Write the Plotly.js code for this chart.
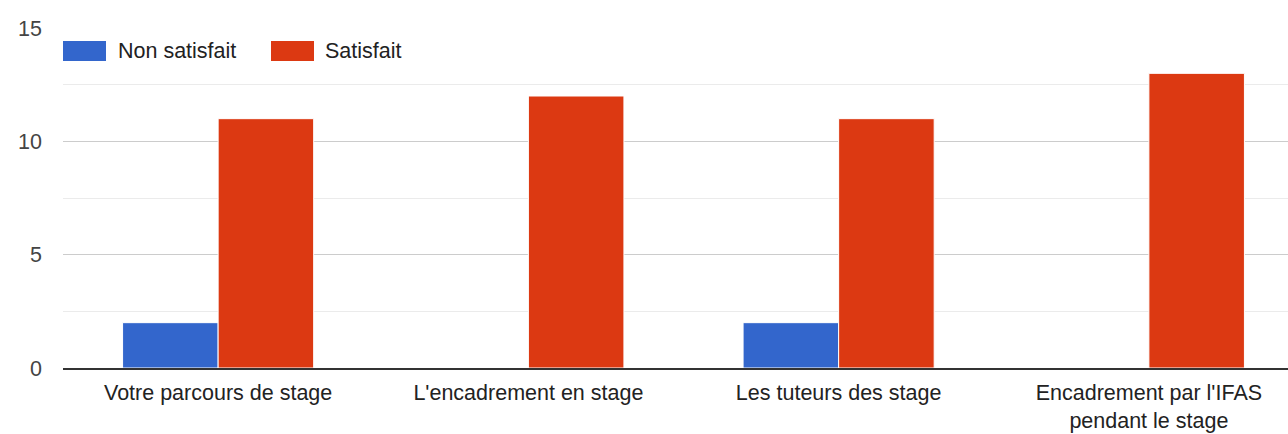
<!DOCTYPE html>
<html><head><meta charset="utf-8">
<script src="https://cdn.plot.ly/plotly-3.0.1.min.js"></script>
<style>html,body{margin:0;padding:0;overflow:hidden;background:#fff;width:1288px;height:434px}#c{width:1304px;height:434px}</style>
</head><body><div id="c"></div>
<script>
const categories = ["Votre parcours de stage", "L'encadrement en stage", "Les tuteurs des stage", "Encadrement par l'IFAS<br>pendant le stage"];
const nonSatisfait = [2, 0, 2, 0];
const satisfait = [11, 12, 11, 13];
const seriesNames = ["Non satisfait", "Satisfait"];
const colors = ["#3366cc", "#dc3912"];
const yTicks = [0, 5, 10, 15];

const FONT = '"Liberation Sans", Arial, sans-serif';
const FS = 21.5;
const L = 63, W = 1304, PW = W - L, T = 28, PH = 340;
const px = x => (x - L) / PW;
const py = y => (T + PH - y) / PH;

const traces = [nonSatisfait, satisfait].map((v, i) => ({
  type: 'bar', x: categories, y: v, name: seriesNames[i],
  marker: {color: colors[i], line: {color: '#ffffff', width: 1}},
  hoverinfo: 'none'
}));

const legendItems = [{x: 63, tx: 116}, {x: 271, tx: 323}];
const shapes = legendItems.map((it, i) => ({
  type: 'rect', xref: 'paper', yref: 'paper',
  x0: px(it.x), x1: px(it.x + 43), y0: py(61), y1: py(41),
  fillcolor: colors[i], line: {width: 0}
}));
const annotations = legendItems.map((it, i) => ({
  xref: 'paper', yref: 'paper', x: px(it.tx), y: py(51.5),
  xanchor: 'left', yanchor: 'middle', showarrow: false,
  text: seriesNames[i], font: {family: FONT, size: FS, color: '#222'}
}));

const layout = {
  width: W, height: 434,
  margin: {l: L, r: 0, t: T, b: 434 - T - PH, pad: 0},
  paper_bgcolor: '#fff', plot_bgcolor: '#fff',
  barmode: 'group', bargap: 0.384, bargroupgap: 0,
  showlegend: false,
  font: {family: FONT, size: FS, color: '#222'},
  xaxis: {showgrid: false, zeroline: false, showline: true, linecolor: '#333', linewidth: 1.5,
          ticks: '', ticklabelstandoff: 5, tickfont: {family: FONT, size: FS, color: '#222'}, fixedrange: true},
  yaxis: {range: [0, 15], tickvals: yTicks, ticktext: yTicks.map(String), showgrid: true,
          gridcolor: '#cccccc', gridwidth: 1, zeroline: false, showline: false, ticks: '',
          ticklabelstandoff: 20, tickfont: {family: FONT, size: FS, color: '#444'},
          minor: {tickvals: [2.5, 7.5, 12.5], showgrid: true, gridcolor: '#ebebeb', gridwidth: 1},
          fixedrange: true},
  shapes: shapes, annotations: annotations
};
Plotly.newPlot('c', traces, layout, {displayModeBar: false, staticPlot: true});
</script></body></html>
